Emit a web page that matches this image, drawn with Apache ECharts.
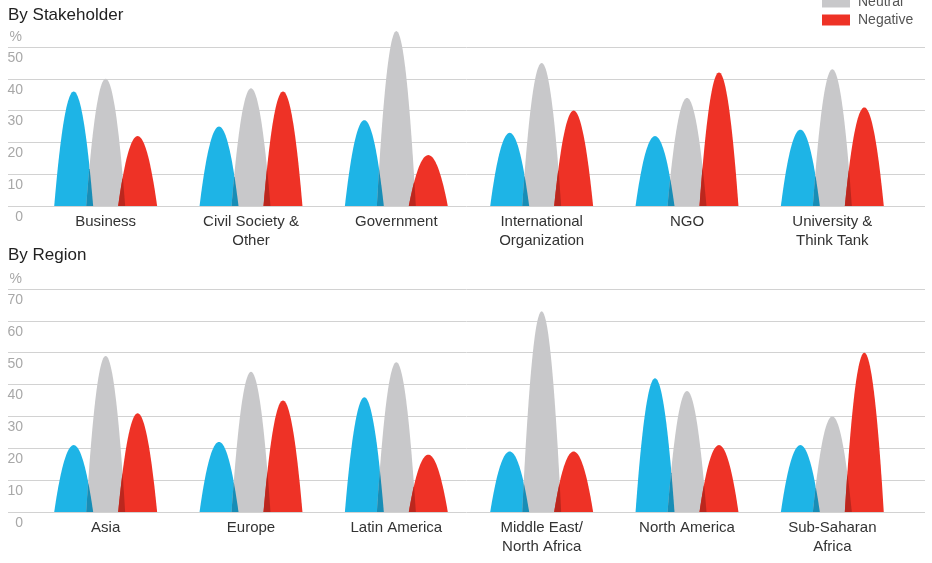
<!DOCTYPE html>
<html>
<head>
<meta charset="utf-8">
<script src="https://cdn.jsdelivr.net/npm/echarts@6/dist/echarts.min.js"></script>
<style>
html,body{margin:0;padding:0;background:#fff;}
#chart{width:932px;height:563px;}
</style>
</head>
<body>
<div id="chart"></div>
<script>
// ---- data ----
const seriesNames = ['Positive', 'Neutral', 'Negative'];
const stakeholderCategories = ['Business', 'Civil Society &\nOther', 'Government', 'International\nOrganization', 'NGO', 'University &\nThink Tank'];
const stakeholderPositive = [36, 25, 27, 23, 22, 24];
const stakeholderNeutral  = [40, 37, 55, 45, 34, 43];
const stakeholderNegative = [22, 36, 16, 30, 42, 31];

const regionCategories = ['Asia', 'Europe', 'Latin America', 'Middle East/\nNorth Africa', 'North America', 'Sub-Saharan\nAfrica'];
const regionPositive = [21, 22, 36, 19, 42, 21];
const regionNeutral  = [49, 44, 47, 63, 38, 30];
const regionNegative = [31, 35, 18, 19, 21, 50];

const stakeholderAxisMax = 50;
const regionAxisMax = 70;
const axisStep = 10;

// ---- styling ----
const COLORS = ['#1EB4E6', '#C8C8CA', '#EE3226'];
const OVERLAP_COLORS = ['#188DB6', '#BB271E'];
const OFFSETS = [-0.22, 0, 0.22];
const HALF = 0.134;
const FONT = "'Liberation Sans', Arial, Helvetica, sans-serif";

function peakPoints(api, i, v, offsetFrac) {
  const band = api.size([1, 0])[0];
  const cx = api.coord([i, 0])[0] + offsetFrac * band;
  const hw = HALF * band;
  const pts = [];
  const N = 48;
  for (let k = 0; k <= N; k++) {
    const u = -1 + 2 * k / N;
    pts.push([cx + u * hw, api.coord([i, v * (1 - u * u)])[1]]);
  }
  return pts;
}

function colorRender(offsetFrac) {
  return function (params, api) {
    const i = api.value(0), v = api.value(1);
    return {
      type: 'polygon',
      shape: { points: peakPoints(api, i, v, offsetFrac) },
      style: { fill: api.visual('color') }
    };
  };
}

// overlap region of two neighbouring peaks (A left of B)
function overlapPoints(api, i, vA, oA, vB, oB) {
  const band = api.size([1, 0])[0];
  const x0 = api.coord([i, 0])[0];
  const cA = x0 + oA * band, cB = x0 + oB * band;
  const hw = HALF * band;
  const left = cB - hw, right = cA + hw;
  if (right <= left) return null;
  const pts = [];
  const N = 16;
  for (let k = 0; k <= N; k++) {
    const x = left + (right - left) * k / N;
    const uA = (x - cA) / hw, uB = (x - cB) / hw;
    const val = Math.max(0, Math.min(vA * (1 - uA * uA), vB * (1 - uB * uB)));
    pts.push([x, api.coord([i, val])[1]]);
  }
  return pts;
}

function overlapRender(params, api) {
  const i = api.value(0);
  const vals = [api.value(1), api.value(2), api.value(3)];
  const children = [];
  for (let s = 0; s < 2; s++) {
    const pts = overlapPoints(api, i, vals[s], OFFSETS[s], vals[s + 1], OFFSETS[s + 1]);
    if (pts) children.push({ type: 'polygon', shape: { points: pts }, style: { fill: OVERLAP_COLORS[s] } });
  }
  return { type: 'group', children: children };
}

function panelSeries(axisIdx, pos, neu, neg) {
  const arrays = [pos, neu, neg];
  const list = [];
  for (let s = 0; s < 3; s++) {
    list.push({
      name: seriesNames[s],
      type: 'custom',
      xAxisIndex: axisIdx, yAxisIndex: axisIdx,
      itemStyle: { color: COLORS[s] },
      renderItem: colorRender(OFFSETS[s]),
      encode: { x: 0, y: 1 },
      data: arrays[s].map((v, i) => [i, v]),
      z: 3
    });
  }
  list.push({
    name: 'overlap',
    type: 'custom',
    xAxisIndex: axisIdx, yAxisIndex: axisIdx,
    renderItem: overlapRender,
    encode: { x: 0, y: [1, 2, 3] },
    data: pos.map((v, i) => [i, pos[i], neu[i], neg[i]]),
    silent: true, z: 4
  });
  return list;
}

function bgYAxis(gridIndex, max) {
  return {
    type: 'value', gridIndex: gridIndex, min: 0, max: max, interval: axisStep,
    name: '%', nameLocation: 'end', nameGap: 3,
    nameTextStyle: { color: '#a8a8a8', fontSize: 14, fontFamily: FONT, align: 'right', verticalAlign: 'bottom', padding: [0, -14, 0, 0] },
    axisLine: { show: false }, axisTick: { show: false },
    axisLabel: { inside: true, margin: 15, align: 'right', verticalAlign: 'top', padding: [4, 0, 0, 0], color: '#a8a8a8', fontSize: 14, fontFamily: FONT },
    splitLine: { show: true, lineStyle: { color: '#d2d2d2', width: 1 } }
  };
}
function dataYAxis(gridIndex, max) {
  return { type: 'value', gridIndex: gridIndex, min: 0, max: max, interval: axisStep, show: false, splitLine: { show: false } };
}
function catXAxis(gridIndex, cats) {
  return {
    type: 'category', gridIndex: gridIndex, data: cats,
    axisLine: { show: false }, axisTick: { show: false },
    axisLabel: { margin: 6, color: '#333', fontSize: 15, lineHeight: 19, fontFamily: FONT, interval: 0 }
  };
}

const chart = echarts.init(document.getElementById('chart'), null, { renderer: 'canvas' });
chart.setOption({
  animation: false,
  backgroundColor: '#fff',
  title: [
    { text: 'By Stakeholder', left: 3, top: 2, textStyle: { fontSize: 17, fontWeight: 'normal', color: '#222', fontFamily: FONT } },
    { text: 'By Region', left: 3, top: 242, textStyle: { fontSize: 17, fontWeight: 'normal', color: '#222', fontFamily: FONT } }
  ],
  legend: {
    data: seriesNames, orient: 'vertical', left: 817, top: -28,
    icon: 'rect', itemWidth: 28, itemHeight: 11, itemGap: 4,
    textStyle: { color: '#555', fontSize: 14, fontFamily: FONT, padding: [0, 0, 0, 3] }
  },
  grid: [
    { left: 8, right: 7, top: 47, height: 159 },
    { left: 33, right: 27, top: 47, height: 159 },
    { left: 8, right: 7, top: 289, height: 223 },
    { left: 33, right: 27, top: 289, height: 223 }
  ],
  xAxis: [
    { type: 'category', gridIndex: 0, data: [], show: false },
    catXAxis(1, stakeholderCategories),
    { type: 'category', gridIndex: 2, data: [], show: false },
    catXAxis(3, regionCategories)
  ],
  yAxis: [
    bgYAxis(0, stakeholderAxisMax),
    dataYAxis(1, stakeholderAxisMax),
    bgYAxis(2, regionAxisMax),
    dataYAxis(3, regionAxisMax)
  ],
  series: [].concat(
    panelSeries(1, stakeholderPositive, stakeholderNeutral, stakeholderNegative),
    panelSeries(3, regionPositive, regionNeutral, regionNegative)
  )
});
</script>
</body>
</html>
